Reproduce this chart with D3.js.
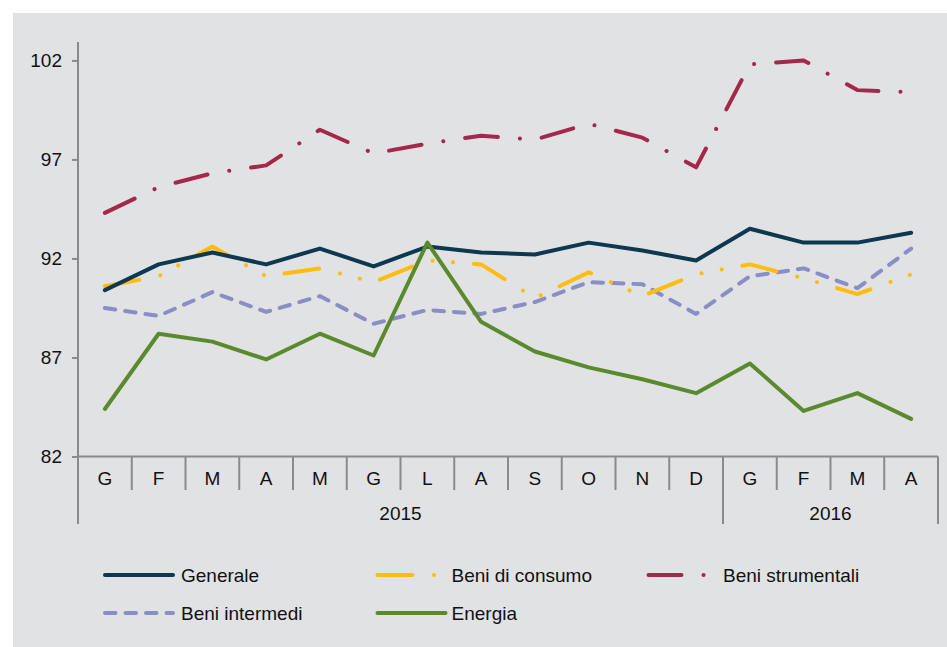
<!DOCTYPE html>
<html>
<head>
<meta charset="utf-8">
<script src="https://cdn.jsdelivr.net/npm/d3@7"></script>
<style>
  html, body { margin: 0; padding: 0; background: #ffffff; }
  svg { display: block; }
  text { font-family: "Liberation Sans", Arial, sans-serif; fill: #111; }
</style>
</head>
<body>
<svg id="chart" width="947" height="647"></svg>
<script>
// ---- data ----
const months = ["G","F","M","A","M","G","L","A","S","O","N","D","G","F","M","A"];
const years = ["2015","2016"];
const yearStart = [0, 12];
const yearEnd = [12, 16];
const yTicks = [82, 87, 92, 97, 102];

const generale       = [90.4, 91.7, 92.3, 91.7, 92.5, 91.6, 92.6, 92.3, 92.2, 92.8, 92.4, 91.9, 93.5, 92.8, 92.8, 93.3];
const beniConsumo    = [90.6, 91.1, 92.6, 91.1, 91.5, 90.8, 91.9, 91.7, 90.0, 91.3, 90.1, 91.2, 91.7, 91.0, 90.2, 91.2];
const beniStrumentali= [94.3, 95.6, 96.3, 96.7, 98.5, 97.3, 97.8, 98.2, 98.0, 98.8, 98.1, 96.6, 101.8, 102.0, 100.5, 100.4];
const beniIntermedi  = [89.5, 89.1, 90.3, 89.3, 90.1, 88.7, 89.4, 89.2, 89.8, 90.8, 90.7, 89.2, 91.1, 91.5, 90.5, 92.5];
const energia        = [84.4, 88.2, 87.8, 86.9, 88.2, 87.1, 92.8, 88.8, 87.3, 86.5, 85.9, 85.2, 86.7, 84.3, 85.2, 83.9];

const seriesNames = ["Generale","Beni di consumo","Beni strumentali","Beni intermedi","Energia"];
const seriesData = [generale, beniConsumo, beniStrumentali, beniIntermedi, energia];
const seriesColors = ["#0c3850","#fdbd10","#a5284a","#8a8ec4","#5a8a2d"];
const seriesDash = [null, "35 21.5 0.1 20.4 0.1 20.9", "33 22 0.1 22", "10.5 10", null];
const drawOrder = [3, 1, 0, 4, 2];

// ---- layout ----
const svg = d3.select("#chart");
svg.append("rect").attr("x", 13).attr("y", 13).attr("width", 934).attr("height", 634).attr("fill", "#e1e2e4");

const plotL = 78, plotR = 938, plotT = 42, plotB = 456.5;
const x = d3.scaleBand().domain(d3.range(months.length)).range([plotL, plotR]).padding(0);
const bw = x.bandwidth();
const cx = i => x(i) + bw / 2;
const y = d3.scaleLinear().domain([82, 102.93]).range([plotB, plotT]);

const axisColor = "#8a8a8a";
// y axis
const yAxis = d3.axisLeft(y).tickValues(yTicks).tickSize(6).tickPadding(10).tickSizeOuter(0);
const gy = svg.append("g").attr("transform", `translate(${plotL},0)`).call(yAxis);
gy.select(".domain").remove();
gy.selectAll(".tick line").attr("stroke", axisColor).attr("stroke-width", 2);
gy.selectAll(".tick text").attr("font-size", 19).attr("font-family", "Liberation Sans, Arial, sans-serif").attr("fill", "#111");
svg.append("line").attr("x1", plotL).attr("x2", plotL).attr("y1", plotT).attr("y2", 524)
  .attr("stroke", axisColor).attr("stroke-width", 2);

// x axis baseline
svg.append("line").attr("x1", plotL).attr("x2", plotR).attr("y1", y(82)).attr("y2", y(82))
  .attr("stroke", axisColor).attr("stroke-width", 2);
// category separators
const seps = d3.range(1, months.length + 1);
svg.selectAll(".sep").data(seps).enter().append("line")
  .attr("x1", i => i < months.length ? x(i) : plotR)
  .attr("x2", i => i < months.length ? x(i) : plotR)
  .attr("y1", y(82)).attr("y2", i => yearEnd.includes(i) ? 524 : 490)
  .attr("stroke", axisColor).attr("stroke-width", 2);
// month labels
svg.selectAll(".mlab").data(months).enter().append("text")
  .attr("x", (d, i) => cx(i)).attr("y", 485)
  .attr("text-anchor", "middle").attr("font-size", 19).text(d => d);
// year labels
svg.selectAll(".ylab").data(years).enter().append("text")
  .attr("x", (d, i) => (x(yearStart[i]) + (yearEnd[i] < months.length ? x(yearEnd[i]) : plotR)) / 2)
  .attr("y", 519.5).attr("text-anchor", "middle").attr("font-size", 19).text(d => d);

// lines
const line = d3.line().x((d, i) => cx(i)).y(d => y(d));
drawOrder.forEach(k => {
  svg.append("path").datum(seriesData[k])
    .attr("d", line).attr("fill", "none")
    .attr("stroke", seriesColors[k]).attr("stroke-width", 4)
    .attr("stroke-linecap", "round").attr("stroke-linejoin", "round")
    .attr("stroke-dasharray", seriesDash[k]);
});

// legend
const legCols = [103, 375.5, 646.5];
const legTextX = [181, 451.5, 723];
const legRows = [575, 613];
seriesNames.forEach((name, k) => {
  const col = k % 3, row = Math.floor(k / 3);
  const lx = legCols[col], ly = legRows[row];
  svg.append("line").attr("x1", lx + 2).attr("x2", lx + 70).attr("y1", ly).attr("y2", ly)
    .attr("stroke", seriesColors[k]).attr("stroke-width", 4)
    .attr("stroke-linecap", "round").attr("stroke-dasharray", seriesDash[k]);
  svg.append("text").attr("x", legTextX[col]).attr("y", ly + 7)
    .attr("font-size", 19).text(name);
});
</script>
</body>
</html>
